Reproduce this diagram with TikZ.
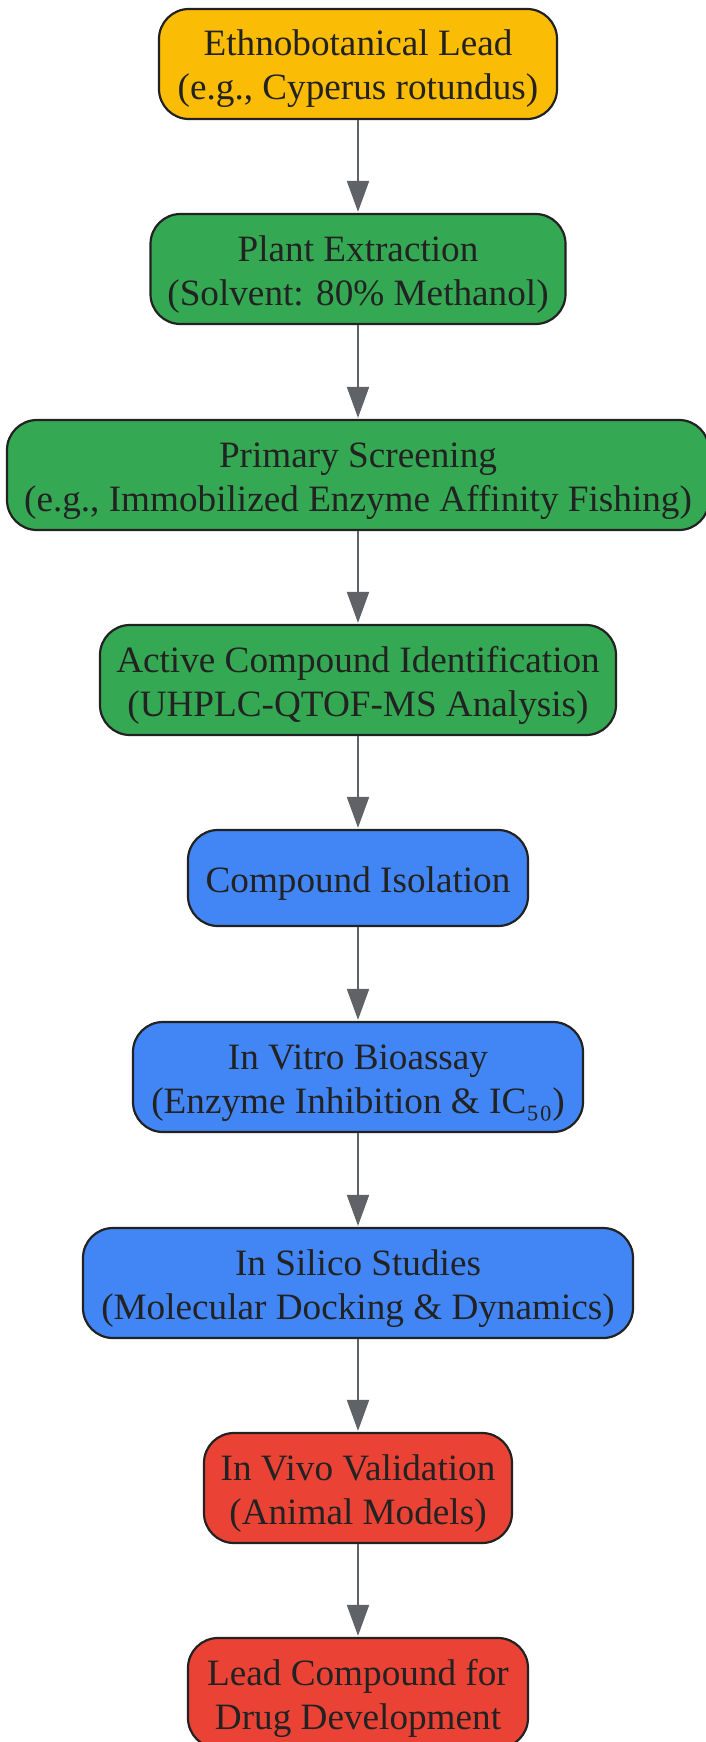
\documentclass[tikz,border=0pt]{standalone}
\usepackage{fontspec}
\setmainfont{Liberation Serif}
\usetikzlibrary{arrows.meta}
\definecolor{cyellow}{HTML}{FBBC05}
\definecolor{cgreen}{HTML}{34A853}
\definecolor{cblue}{HTML}{4285F4}
\definecolor{cred}{HTML}{EA4335}
\definecolor{cborder}{HTML}{222222}
\definecolor{carrow}{HTML}{5F6368}
\newcommand\tpst{\rule{0pt}{36.5pt}}
\newcommand\btst{\rule[-8.5pt]{0pt}{8.5pt}}
\tikzset{
  box/.style={draw=cborder, line width=2.2pt, rounded corners=30pt, minimum height=110pt,
    align=center, text=cborder, inner sep=0pt,
    font=\fontsize{37.2pt}{44pt}\selectfont},
  flow/.style={draw=carrow, line width=2pt, -{Triangle[length=31pt,width=22pt]}, shorten >=1pt}
}
\begin{document}
\begin{tikzpicture}[x=1pt,y=1pt]
\useasboundingbox (0,0) rectangle (705,-1742);
\node[box, fill=cyellow, minimum width=398pt] (n1) at (358,-64) {\tpst Ethnobotanical Lead\\(e.g., Cyperus rotundus)\btst};
\node[box, fill=cgreen, minimum width=415pt] (n2) at (358,-269) {\tpst Plant Extraction\\(Solvent: 80\% Methanol)\btst};
\node[box, fill=cgreen, minimum width=702pt] (n3) at (358,-475) {\tpst Primary Screening\\(e.g., Immobilized Enzyme Affinity Fishing)\btst};
\node[box, fill=cgreen, minimum width=516pt] (n4) at (358,-680) {\tpst Active Compound Identification\\(UHPLC-QTOF-MS Analysis)\btst};
\node[box, fill=cblue, minimum width=340pt, minimum height=96pt] (n5) at (358,-878) {\tpst Compound Isolation\btst};
\node[box, fill=cblue, minimum width=450pt] (n6) at (358,-1077) {\tpst In Vitro Bioassay\\(Enzyme Inhibition \& IC₅₀)\btst};
\node[box, fill=cblue, minimum width=550pt] (n7) at (358,-1283) {\tpst In Silico Studies\\(Molecular Docking \& Dynamics)\btst};
\node[box, fill=cred, minimum width=308pt] (n8) at (358,-1488) {\tpst In Vivo Validation\\(Animal Models)\btst};
\node[box, fill=cred, minimum width=340pt] (n9) at (358,-1693) {\tpst Lead Compound for\\Drug Development\btst};
\foreach \a/\b in {n1/n2,n2/n3,n3/n4,n4/n5,n5/n6,n6/n7,n7/n8,n8/n9}
  \draw[flow] (\a.south) -- (\b.north);
\end{tikzpicture}
\end{document}
